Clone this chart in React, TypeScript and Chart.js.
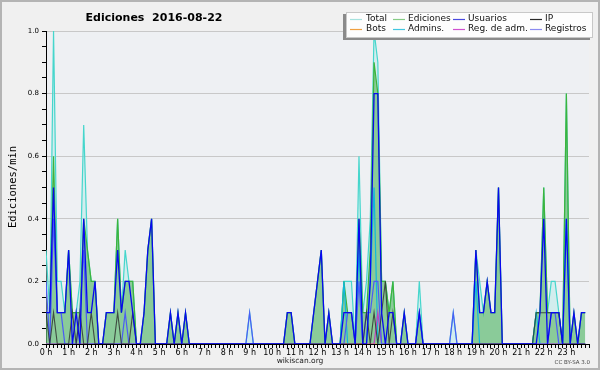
import React, { useEffect, useRef } from 'react';
import { Chart, registerables } from 'chart.js';

Chart.register(...registerables);

// ---- data (one value per 10-minute slot, edits per minute) ----
const hourTickLabels = ['0 h','1 h','2 h','3 h','4 h','5 h','6 h','7 h','8 h','9 h','10 h','11 h','12 h','13 h','14 h','15 h','16 h','17 h','18 h','19 h','20 h','21 h','22 h','23 h'];
const yTickLabels = ['0.0', '0.2', '0.4', '0.6', '0.8', '1.0'];

const total = [
  0.3, 0.1, 1.0, 0.2, 0.2, 0.1,
  0.3, 0.1, 0.1, 0.2, 0.7, 0.3,
  0.2, 0.2, 0, 0, 0.1, 0.1,
  0.1, 0.4, 0.1, 0.3, 0.2, 0.2,
  0, 0, 0.1, 0.3, 0.4, 0,
  0, 0, 0, 0.1, 0, 0.1,
  0, 0.1, 0, 0, 0, 0,
  0, 0, 0, 0, 0, 0,
  0, 0, 0, 0, 0, 0,
  0.1, 0, 0, 0, 0, 0,
  0, 0, 0, 0, 0.1, 0.1,
  0, 0, 0, 0, 0, 0.1,
  0.2, 0.3, 0, 0.1, 0, 0,
  0, 0.2, 0.2, 0.2, 0, 0.6,
  0.1, 0.2, 0.4, 1.0, 0.9, 0.2,
  0.2, 0.1, 0.2, 0, 0, 0.1,
  0, 0, 0, 0.2, 0, 0,
  0, 0, 0, 0, 0, 0,
  0.1, 0, 0, 0, 0, 0,
  0.3, 0.2, 0.1, 0.2, 0.1, 0.1,
  0.5, 0, 0, 0, 0, 0,
  0, 0, 0, 0, 0.1, 0.1,
  0.5, 0.1, 0.2, 0.2, 0.1, 0,
  0.8, 0, 0.1, 0, 0.1, 0.1,
];

const ediciones = [
  0.1, 0.1, 0.6, 0.1, 0.1, 0.1,
  0.3, 0.1, 0.1, 0.1, 0.4, 0.3,
  0.2, 0.2, 0, 0, 0.1, 0.1,
  0.1, 0.4, 0.1, 0.2, 0.2, 0.2,
  0, 0, 0.1, 0.3, 0.4, 0,
  0, 0, 0, 0.1, 0, 0.1,
  0, 0.1, 0, 0, 0, 0,
  0, 0, 0, 0, 0, 0,
  0, 0, 0, 0, 0, 0,
  0, 0, 0, 0, 0, 0,
  0, 0, 0, 0, 0.1, 0.1,
  0, 0, 0, 0, 0, 0.1,
  0.2, 0.3, 0, 0.1, 0, 0,
  0, 0.2, 0.1, 0.1, 0, 0.4,
  0.1, 0.1, 0.3, 0.9, 0.8, 0.2,
  0.2, 0.1, 0.2, 0, 0, 0.1,
  0, 0, 0, 0.1, 0, 0,
  0, 0, 0, 0, 0, 0,
  0, 0, 0, 0, 0, 0,
  0.3, 0.1, 0.1, 0.2, 0.1, 0.1,
  0.5, 0, 0, 0, 0, 0,
  0, 0, 0, 0, 0.1, 0.1,
  0.5, 0.1, 0.1, 0.1, 0.1, 0,
  0.8, 0, 0.1, 0, 0.1, 0.1,
];

const usuarios = [
  0.1, 0.1, 0.5, 0.1, 0.1, 0.1,
  0.3, 0, 0.1, 0, 0.4, 0.1,
  0.1, 0.2, 0, 0, 0.1, 0.1,
  0.1, 0.3, 0.1, 0.2, 0.2, 0.1,
  0, 0, 0.1, 0.3, 0.4, 0,
  0, 0, 0, 0.1, 0, 0.1,
  0, 0.1, 0, 0, 0, 0,
  0, 0, 0, 0, 0, 0,
  0, 0, 0, 0, 0, 0,
  0, 0, 0, 0, 0, 0,
  0, 0, 0, 0, 0.1, 0.1,
  0, 0, 0, 0, 0, 0.1,
  0.2, 0.3, 0, 0.1, 0, 0,
  0, 0.1, 0.1, 0.1, 0, 0.4,
  0, 0, 0.2, 0.8, 0.8, 0.1,
  0, 0.1, 0.1, 0, 0, 0.1,
  0, 0, 0, 0.1, 0, 0,
  0, 0, 0, 0, 0, 0,
  0, 0, 0, 0, 0, 0,
  0.3, 0.1, 0.1, 0.2, 0.1, 0.1,
  0.5, 0, 0, 0, 0, 0,
  0, 0, 0, 0, 0, 0.1,
  0.4, 0, 0.1, 0.1, 0.1, 0,
  0.4, 0, 0.1, 0, 0.1, 0.1,
];

const ip = [
  0.1, 0, 0.1, 0, 0, 0,
  0, 0.1, 0, 0.1, 0, 0,
  0.1, 0, 0, 0, 0, 0,
  0, 0.1, 0, 0, 0, 0.1,
  0, 0, 0, 0, 0, 0,
  0, 0, 0, 0, 0, 0,
  0, 0, 0, 0, 0, 0,
  0, 0, 0, 0, 0, 0,
  0, 0, 0, 0, 0, 0,
  0, 0, 0, 0, 0, 0,
  0, 0, 0, 0, 0, 0,
  0, 0, 0, 0, 0, 0,
  0, 0, 0, 0, 0, 0,
  0, 0, 0, 0, 0, 0,
  0, 0.1, 0, 0.1, 0, 0.1,
  0.2, 0, 0.1, 0, 0, 0,
  0, 0, 0, 0, 0, 0,
  0, 0, 0, 0, 0, 0,
  0, 0, 0, 0, 0, 0,
  0, 0, 0, 0, 0, 0,
  0, 0, 0, 0, 0, 0,
  0, 0, 0, 0, 0.1, 0.1,
  0.1, 0.1, 0.1, 0.1, 0.1, 0,
  0, 0, 0, 0, 0, 0,
];

const bots = [
  0, 0, 0, 0, 0, 0, 0, 0, 0, 0, 0, 0,
  0, 0, 0, 0, 0, 0, 0, 0, 0, 0, 0, 0,
  0, 0, 0, 0, 0, 0, 0, 0, 0, 0, 0, 0,
  0, 0, 0, 0, 0, 0, 0, 0, 0, 0, 0, 0,
  0, 0, 0, 0, 0, 0, 0, 0, 0, 0, 0, 0,
  0, 0, 0, 0, 0, 0, 0, 0, 0, 0, 0, 0,
  0, 0, 0, 0, 0, 0, 0, 0, 0, 0, 0, 0,
  0, 0, 0, 0, 0, 0, 0, 0, 0, 0, 0, 0,
  0, 0, 0, 0, 0, 0, 0, 0, 0, 0, 0, 0,
  0, 0, 0, 0, 0, 0, 0, 0, 0, 0, 0, 0,
  0, 0, 0, 0, 0, 0, 0, 0, 0, 0, 0, 0,
  0, 0, 0, 0, 0, 0, 0, 0, 0, 0, 0, 0,
];

const admins = [
  0, 0, 0, 0, 0, 0,
  0, 0, 0, 0, 0, 0,
  0, 0, 0, 0, 0, 0,
  0, 0, 0, 0, 0, 0,
  0, 0, 0, 0, 0, 0,
  0, 0, 0, 0, 0, 0,
  0, 0, 0, 0, 0, 0,
  0, 0, 0, 0, 0, 0,
  0, 0, 0, 0, 0, 0,
  0, 0, 0, 0, 0, 0,
  0, 0, 0, 0, 0, 0,
  0, 0, 0, 0, 0, 0,
  0, 0, 0, 0, 0, 0,
  0, 0.2, 0, 0, 0, 0.3,
  0, 0, 0.2, 0.5, 0, 0,
  0, 0, 0, 0, 0, 0,
  0, 0, 0, 0, 0, 0,
  0, 0, 0, 0, 0, 0,
  0, 0, 0, 0, 0, 0,
  0.2, 0, 0, 0, 0, 0,
  0, 0, 0, 0, 0, 0,
  0, 0, 0, 0, 0.1, 0,
  0, 0, 0, 0, 0, 0,
  0.4, 0, 0, 0, 0, 0,
];

const regAdm = [
  0, 0, 0, 0, 0, 0, 0, 0, 0, 0, 0, 0,
  0, 0, 0, 0, 0, 0, 0, 0, 0, 0, 0, 0,
  0, 0, 0, 0, 0, 0, 0, 0, 0, 0, 0, 0,
  0, 0, 0, 0, 0, 0, 0, 0, 0, 0, 0, 0,
  0, 0, 0, 0, 0, 0, 0, 0, 0, 0, 0, 0,
  0, 0, 0, 0, 0, 0, 0, 0, 0, 0, 0, 0,
  0, 0, 0, 0, 0, 0, 0, 0, 0, 0, 0, 0,
  0, 0, 0, 0, 0.1, 0, 0, 0, 0, 0, 0, 0,
  0, 0, 0, 0, 0, 0, 0, 0, 0, 0, 0, 0,
  0, 0, 0, 0, 0, 0, 0, 0, 0, 0, 0, 0,
  0, 0, 0, 0, 0, 0, 0, 0, 0, 0, 0, 0,
  0, 0, 0, 0, 0, 0, 0, 0, 0, 0, 0, 0,
];

const registros = [
  0.2, 0, 0.4, 0.1, 0.1, 0,
  0, 0, 0, 0.1, 0.3, 0,
  0, 0, 0, 0, 0, 0,
  0, 0, 0, 0.1, 0, 0,
  0, 0, 0, 0, 0, 0,
  0, 0, 0, 0, 0, 0,
  0, 0, 0, 0, 0, 0,
  0, 0, 0, 0, 0, 0,
  0, 0, 0, 0, 0, 0,
  0.1, 0, 0, 0, 0, 0,
  0, 0, 0, 0, 0, 0,
  0, 0, 0, 0, 0, 0,
  0, 0, 0, 0, 0, 0,
  0, 0, 0.1, 0.1, 0, 0.2,
  0, 0.1, 0.1, 0.2, 0.2, 0,
  0, 0, 0, 0, 0, 0,
  0, 0, 0, 0.1, 0, 0,
  0, 0, 0, 0, 0, 0,
  0.1, 0, 0, 0, 0, 0,
  0, 0, 0, 0, 0, 0,
  0, 0, 0, 0, 0, 0,
  0, 0, 0, 0, 0, 0,
  0, 0, 0.1, 0.1, 0, 0,
  0, 0, 0, 0, 0, 0,
];

const legendNames = ['Total', 'Ediciones', 'Usuarios', 'IP', 'Bots', 'Admins.', 'Reg. de adm.', 'Registros'];
const legendColors = ['#a6e2de', '#86cc86', '#4a4ae0', '#2a2a2a', '#f0a040', '#40c6e0', '#d050d0', '#8a8af0'];

const FONT = "'DejaVu Sans', sans-serif";

const toPoints = (arr: number[]) => arr.map((v, i) => ({ x: i, y: v }));

const decor = {
  id: 'decor',
  beforeDraw(chart: any) {
    const { ctx, chartArea: a, width, height } = chart;
    ctx.save();
    ctx.fillStyle = '#f0f0f0';
    ctx.fillRect(0, 0, width, height);
    ctx.fillStyle = '#eef0f3';
    ctx.fillRect(a.left, a.top, a.right - a.left, a.bottom - a.top);
    ctx.strokeStyle = '#b4b4b4';
    ctx.lineWidth = 2;
    ctx.strokeRect(1, 1, width - 2, height - 2);
    ctx.restore();
  },
  afterDraw(chart: any) {
    const { ctx } = chart;
    ctx.save();
    // title
    ctx.fillStyle = '#000';
    ctx.font = `bold 11px ${FONT}`;
    ctx.textAlign = 'center';
    ctx.textBaseline = 'alphabetic';
    ctx.fillText('Ediciones  2016-08-22', 154, 21);
    // y axis title
    ctx.save();
    ctx.translate(13, 187);
    ctx.rotate(-Math.PI / 2);
    ctx.font = `10.5px 'DejaVu Sans Mono', monospace`;
    ctx.textAlign = 'center';
    ctx.textBaseline = 'middle';
    ctx.fillText('Ediciones/min', 0, 0);
    ctx.restore();
    // footer
    ctx.font = `7.5px ${FONT}`;
    ctx.textAlign = 'center';
    ctx.textBaseline = 'middle';
    ctx.fillStyle = '#222';
    ctx.fillText('wikiscan.org', 300, 361.5);
    ctx.font = `5.5px ${FONT}`;
    ctx.textAlign = 'right';
    ctx.fillStyle = '#444';
    ctx.fillText('CC BY-SA 3.0', 590, 363);
    // legend box
    ctx.fillStyle = '#8a8a8a';
    ctx.fillRect(343, 14, 247, 26);
    ctx.fillStyle = '#fdfdfd';
    ctx.fillRect(346, 12, 247, 26);
    ctx.strokeStyle = '#c8c8c8';
    ctx.lineWidth = 1;
    ctx.strokeRect(346.5, 12.5, 246, 25);
    const lineX = [350, 393, 453, 530];
    const textX = [366, 408, 468, 545];
    const rowY = [19, 29];
    ctx.font = `9px ${FONT}`;
    ctx.textAlign = 'left';
    ctx.textBaseline = 'middle';
    legendNames.forEach((name, i) => {
      const col = i % 4;
      const row = Math.floor(i / 4);
      const y = rowY[row];
      ctx.strokeStyle = legendColors[i];
      ctx.lineWidth = 1.2;
      ctx.beginPath();
      ctx.moveTo(lineX[col], y + 0.5);
      ctx.lineTo(lineX[col] + 12, y + 0.5);
      ctx.stroke();
      ctx.fillStyle = '#111';
      ctx.fillText(name, textX[col], y);
    });
    ctx.restore();
  },
};

export default function App() {
  const ref = useRef<HTMLCanvasElement | null>(null);
  useEffect(() => {
    document.body.style.margin = '0';
    const canvas = ref.current;
    if (!canvas) return;
    const ds = (label: string, data: number[], color: string, order: number, width: number, fill: any = false, bg: string = 'transparent') => ({
      label,
      data: toPoints(data),
      borderColor: color,
      backgroundColor: bg,
      borderWidth: width,
      pointRadius: 0,
      tension: 0,
      fill,
      order,
    });
    const chart = new Chart(canvas, {
      type: 'line',
      data: {
        datasets: [
          ds('Total', total, '#45d6cc', 8, 1.2, 'origin', 'rgba(175,232,232,0.45)'),
          ds('Ediciones', ediciones, '#3cb43c', 7, 1.2, 'origin', 'rgba(60,165,60,0.48)'),
          ds('Bots', bots, '#ff9933', 6, 1),
          ds('Admins.', admins, '#10b8dc', 5, 1.2),
          ds('Reg. de adm.', regAdm, '#c040c0', 4, 1.2),
          ds('Registros', registros, '#4a5cf6', 3, 1.2),
          ds('IP', ip, 'rgba(45,45,45,0.8)', 2, 1.1),
          ds('Usuarios', usuarios, '#0808f0', 1, 1.3),
        ] as any,
      },
      options: {
        animation: false,
        responsive: false,
        layout: { padding: { top: 31, right: 11, bottom: 0, left: 0 } },
        plugins: {
          legend: { display: false },
          title: { display: false },
          tooltip: { enabled: false },
        },
        scales: {
          x: {
            type: 'linear',
            min: 0,
            max: 144,
            z: 1,
            afterFit: (s: any) => { s.height = 26; },
            afterBuildTicks: (s: any) => {
              s.ticks = Array.from({ length: 145 }, (_, i) => ({ value: i }));
            },
            ticks: {
              autoSkip: false,
              maxRotation: 0,
              minRotation: 0,
              padding: 0,
              color: '#000',
              font: { family: FONT, size: 8 },
              callback: (v: any) => {
                const n = Math.round(Number(v));
                return n % 6 === 0 && hourTickLabels[n / 6] ? hourTickLabels[n / 6] : '';
              },
            },
            grid: { drawOnChartArea: false, drawTicks: true, tickLength: 4, tickColor: '#000', lineWidth: 1 },
            border: { display: true, color: '#000', width: 1 },
          },
          y: {
            type: 'linear',
            min: 0,
            max: 1,
            afterFit: (s: any) => { s.width = 46; },
            afterBuildTicks: (s: any) => {
              s.ticks = Array.from({ length: 21 }, (_, k) => ({ value: k / 20 }));
            },
            ticks: {
              autoSkip: false,
              padding: 3,
              color: '#000',
              font: { family: FONT, size: 7 },
              callback: (v: any) => {
                const k = Math.round(Number(v) * 20);
                return k % 4 === 0 ? yTickLabels[k / 4] : '';
              },
            },
            grid: {
              drawOnChartArea: true,
              drawTicks: true,
              tickLength: 4,
              tickColor: '#000',
              color: (c: any) => {
                const v = c.tick ? c.tick.value : 0;
                const k = Math.round(v * 20);
                return k > 0 && k % 4 === 0 ? '#c8c8c8' : 'rgba(0,0,0,0)';
              },
            },
            border: { display: true, color: '#000', width: 1 },
          },
        },
      },
      plugins: [decor],
    });
    return () => chart.destroy();
  }, []);
  return <canvas ref={ref} width={600} height={370} style={{ display: 'block' }} />;
}
